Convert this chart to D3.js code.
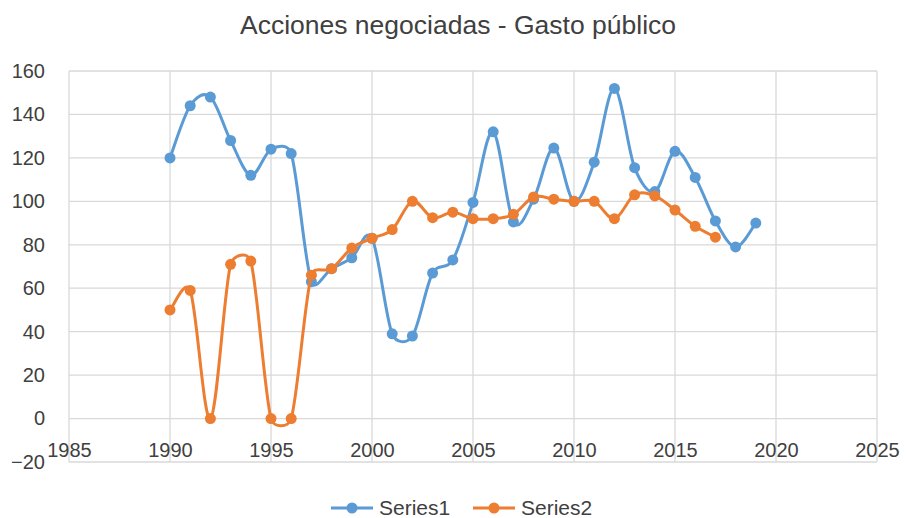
<!DOCTYPE html>
<html>
<head>
<meta charset="utf-8">
<script src="https://cdn.jsdelivr.net/npm/d3@7"></script>
<style>
  body { margin: 0; background: #fff; }
  text { font-family: "Liberation Sans", Arial, sans-serif; fill: #404040; }
</style>
</head>
<body>
<div class="chart"></div>
<script>
// === Data ===
const years1 = d3.range(1990, 2020);
const series1 = [120, 144, 148, 128, 112, 124, 122, 63, 69, 74,
                 83, 39, 38, 67, 73, 99.5, 132, 90.5, 101, 124.5,
                 100, 118, 152, 115.5, 104.5, 123, 111, 91, 79, 90];
const years2 = d3.range(1990, 2018);
const series2 = [50, 59, 0, 71, 72.5, 0, 0, 66, 69, 78.5,
                 83, 87, 100, 92.5, 95, 92, 92, 94, 102, 101,
                 100, 100, 92, 103, 102.5, 96, 88.5, 83.5];
const xTicks = [1985, 1990, 1995, 2000, 2005, 2010, 2015, 2020, 2025];
const yTicks = [-20, 0, 20, 40, 60, 80, 100, 120, 140, 160];
const seriesNames = ["Series1", "Series2"];
const colors = ["#5B9BD5", "#ED7D31"];

//Chart init
const W = 907, H = 518;
const margin = {top: 71, right: 30, bottom: 56, left: 69};
const width = W - margin.left - margin.right;
const height = H - margin.top - margin.bottom;

const root = d3.select(".chart").append("svg")
    .attr("width", W)
    .attr("height", H);
const svg = root.append("g")
    .attr("transform", "translate(" + margin.left + "," + margin.top + ")");

const xScale = d3.scaleLinear().domain([1985, 2025]).range([0, width]);
const yScale = d3.scaleLinear().domain([-20, 160]).range([height, 0]);

// grid
svg.append("g")
    .selectAll("line.h")
    .data(yTicks)
    .join("line")
    .attr("x1", 0).attr("x2", width)
    .attr("y1", d => yScale(d)).attr("y2", d => yScale(d))
    .attr("stroke", "#D9D9D9").attr("stroke-width", 1.3);
svg.append("g")
    .selectAll("line.v")
    .data(xTicks)
    .join("line")
    .attr("y1", 0).attr("y2", height)
    .attr("x1", d => xScale(d)).attr("x2", d => xScale(d))
    .attr("stroke", "#D9D9D9").attr("stroke-width", 1.3);

// axes (labels only)
const yAxis = d3.axisLeft(yScale).tickValues(yTicks).tickSize(0).tickPadding(24);
svg.append("g").attr("class", "y-axis").call(yAxis)
    .call(g => g.select(".domain").remove())
    .selectAll("text").style("font-size", "20px").attr("fill", "#404040");

const xAxis = d3.axisBottom(xScale).tickValues(xTicks).tickSize(0).tickPadding(0).tickFormat(d3.format("d"));
svg.append("g").attr("class", "x-axis")
    .attr("transform", "translate(0," + (yScale(-20) - 19) + ")")
    .call(xAxis)
    .call(g => g.select(".domain").remove())
    .selectAll("text").style("font-size", "20px").attr("fill", "#404040");

// spreadsheet-style smoothing: bezier with 1/6 tangents,
// handles clamped to half of the segment length
function SmoothCurve(context) { this._context = context; }
SmoothCurve.prototype = {
  areaStart() {}, areaEnd() {},
  lineStart() { this._pts = []; },
  point(x, y) { this._pts.push([+x, +y]); },
  lineEnd() {
    const p = this._pts, n = p.length, ctx = this._context;
    if (!n) return;
    ctx.moveTo(p[0][0], p[0][1]);
    const dist = (a, b) => Math.hypot(a[0] - b[0], a[1] - b[1]);
    const tan = i => {
      const a = p[Math.max(i - 1, 0)], b = p[Math.min(i + 1, n - 1)];
      return [b[0] - a[0], b[1] - a[1]];
    };
    for (let i = 0; i < n - 1; i++) {
      const p1 = p[i], p2 = p[i + 1], seg = dist(p1, p2);
      const t1 = tan(i), t2 = tan(i + 1);
      const l1 = Math.hypot(t1[0], t1[1]), l2 = Math.hypot(t2[0], t2[1]);
      const f1 = l1 > 0 ? Math.min(1 / 6, seg / 2 / l1) : 0;
      const f2 = l2 > 0 ? Math.min(1 / 6, seg / 2 / l2) : 0;
      ctx.bezierCurveTo(
        p1[0] + t1[0] * f1, p1[1] + t1[1] * f1,
        p2[0] - t2[0] * f2, p2[1] - t2[1] * f2,
        p2[0], p2[1]);
    }
  }
};
const smooth = context => new SmoothCurve(context);

const line = d3.line()
    .x(d => xScale(d[0]))
    .y(d => yScale(d[1]))
    .curve(smooth);

const all = [
  years1.map((y, i) => [y, series1[i]]),
  years2.map((y, i) => [y, series2[i]])
];

all.forEach((pts, k) => {
  svg.append("path")
      .datum(pts)
      .attr("d", line)
      .attr("fill", "none")
      .attr("stroke", colors[k])
      .attr("stroke-width", 3)
      .attr("stroke-linejoin", "round");
  svg.append("g")
      .selectAll("circle")
      .data(pts)
      .join("circle")
      .attr("cx", d => xScale(d[0]))
      .attr("cy", d => yScale(d[1]))
      .attr("r", 5.5)
      .attr("fill", colors[k]);
});

// title
root.append("text")
    .attr("x", 458)
    .attr("y", 34)
    .attr("text-anchor", "middle")
    .style("font-size", "26.5px")
    .text("Acciones negociadas - Gasto público");

// legend
const legend = root.append("g").attr("transform", "translate(0,508)");
const legX = [331, 473];
seriesNames.forEach((name, k) => {
  const g = legend.append("g").attr("transform", "translate(" + legX[k] + ",0)");
  g.append("line").attr("x1", 0).attr("x2", 42)
      .attr("stroke", colors[k]).attr("stroke-width", 3);
  g.append("circle").attr("cx", 21).attr("r", 5.5).attr("fill", colors[k]);
  g.append("text").attr("x", 48).attr("dy", "0.35em")
      .style("font-size", "21px").text(name);
});
</script>
</body>
</html>
